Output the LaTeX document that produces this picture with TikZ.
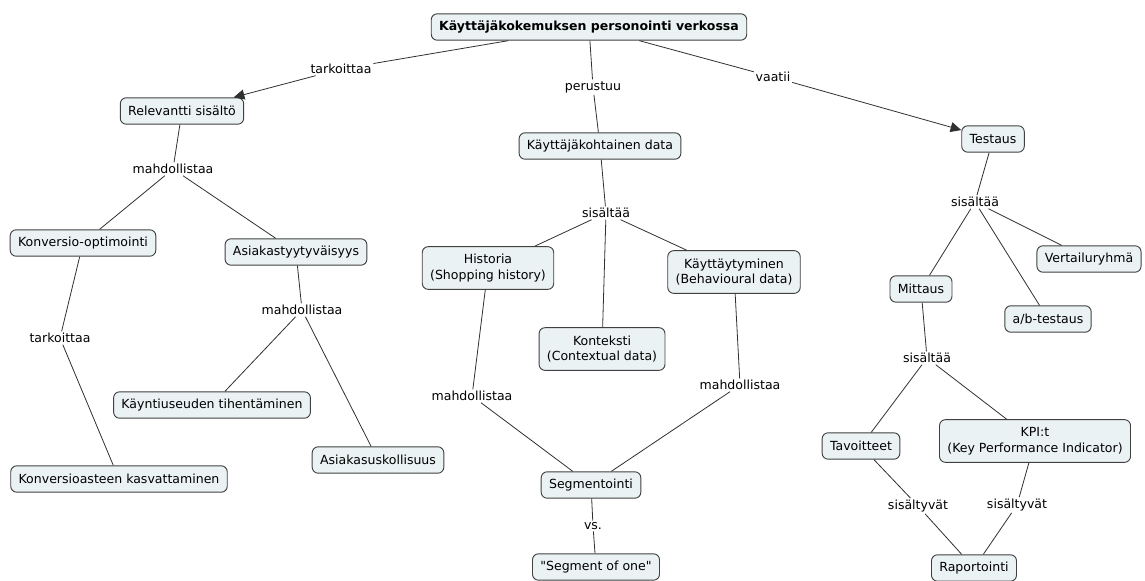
\documentclass[tikz,border=0pt]{standalone}
\usepackage{fontspec}
\setmainfont{DejaVu Sans}
\setmonofont{DejaVu Sans}
\usetikzlibrary{arrows.meta}
\definecolor{boxfill}{HTML}{EBF2F4}
\definecolor{boxline}{HTML}{404040}
\definecolor{linkline}{HTML}{303030}
\newcommand{\straightq}{{\ttfamily"}}
\begin{document}
\begin{tikzpicture}[x=0.75pt,y=-0.75pt,
  concept/.style={draw=boxline,fill=boxfill,rounded corners=4.5pt,line width=0.7pt,
    font=\fontsize{9.4}{11.6}\selectfont,inner xsep=5.9pt,inner ysep=3pt,
    minimum height=19.8pt,align=center},
  twoline/.style={minimum height=32pt},
  lbl/.style={font=\fontsize{9.4}{11.6}\selectfont,inner sep=1.2pt,fill=white},
  link/.style={draw=linkline,line width=0.6pt},
  arr/.style={link,-{Triangle[length=8pt,width=7.5pt]}}]
\useasboundingbox (0,0) rectangle (1145,581);
% concepts
\node[concept,font=\fontsize{9.4}{11.6}\selectfont\bfseries] (title) at (589,27) {Käyttäjäkokemuksen personointi verkossa};
\node[concept] (relev) at (182,111) {Relevantti sisältö};
\node[concept] (konv) at (83,243) {Konversio-optimointi};
\node[concept] (asty) at (296,252) {Asiakastyytyväisyys};
\node[concept] (kaynti) at (212,405) {Käyntiuseuden tihentäminen};
\node[concept] (askus) at (378,460) {Asiakasuskollisuus};
\node[concept] (kasv) at (119,479) {Konversioasteen kasvattaminen};
\node[concept] (kdata) at (600,146) {Käyttäjäkohtainen data};
\node[concept,twoline] (hist) at (488,268) {Historia\\(Shopping history)};
\node[concept,twoline] (kayt) at (734,272) {Käyttäytyminen\\(Behavioural data)};
\node[concept,twoline] (kont) at (602,349) {Konteksti\\(Contextual data)};
\node[concept] (segm) at (591,485) {Segmentointi};
\node[concept] (sone) at (596,567) {\straightq Segment of one\straightq};
\node[concept] (test) at (993,139) {Testaus};
\node[concept] (vert) at (1089,259) {Vertailuryhmä};
\node[concept] (mitt) at (921,289) {Mittaus};
\node[concept] (ab) at (1048,319) {a/b-testaus};
\node[concept] (tav) at (861,446) {Tavoitteet};
\node[concept,twoline] (kpi) at (1035,441) {KPI:t\\(Key Performance Indicator)};
\node[concept] (rap) at (974,568) {Raportointi};
% link labels
\node[lbl] (lt1) at (341,69) {tarkoittaa};
\node[lbl] (lp) at (593,87) {perustuu};
\node[lbl] (lv) at (773,77) {vaatii};
\node[lbl] (lm1) at (173,169) {mahdollistaa};
\node[lbl] (lt2) at (60,338) {tarkoittaa};
\node[lbl] (lm2) at (302,310) {mahdollistaa};
\node[lbl] (ls1) at (606,213) {sisältää};
\node[lbl] (lm3) at (472,396) {mahdollistaa};
\node[lbl] (lm4) at (740,385) {mahdollistaa};
\node[lbl] (lvs) at (593,526) {vs.};
\node[lbl] (ls2) at (975,202) {sisältää};
\node[lbl] (ls3) at (927,358) {sisältää};
\node[lbl] (lsy1) at (918,506) {sisältyvät};
\node[lbl] (lsy2) at (1017,505) {sisältyvät};
% connectors
\draw[link] (title) -- (lt1);
\draw[arr] (lt1) -- (relev);
\draw[link] (title) -- (lp) -- (kdata);
\draw[link] (title) -- (lv);
\draw[arr] (lv) -- (test);
\draw[link] (relev) -- (lm1);
\draw[link] (lm1) -- (konv);
\draw[link] (lm1) -- (asty);
\draw[link] (konv) -- (lt2) -- (kasv);
\draw[link] (asty) -- (lm2);
\draw[link] (lm2) -- (kaynti);
\draw[link] (lm2) -- (askus);
\draw[link] (kdata) -- (ls1);
\draw[link] (ls1) -- (hist);
\draw[link] (ls1) -- (kont);
\draw[link] (ls1) -- (kayt);
\draw[link] (hist) -- (lm3) -- (segm);
\draw[link] (kayt) -- (lm4) -- (segm);
\draw[link] (segm) -- (lvs) -- (sone);
\draw[link] (test) -- (ls2);
\draw[link] (ls2) -- (mitt);
\draw[link] (ls2) -- (ab);
\draw[link] (ls2) -- (vert);
\draw[link] (mitt) -- (ls3);
\draw[link] (ls3) -- (tav);
\draw[link] (ls3) -- (kpi);
\draw[link] (tav) -- (lsy1) -- (rap);
\draw[link] (kpi) -- (lsy2) -- (rap);
\end{tikzpicture}
\end{document}
